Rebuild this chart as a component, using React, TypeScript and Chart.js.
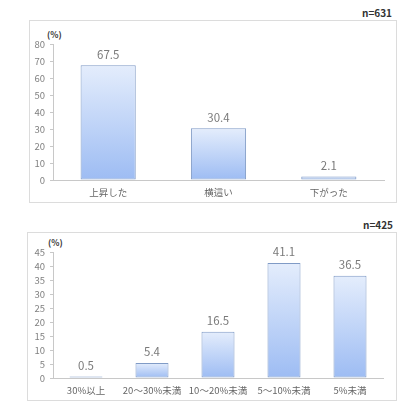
import React, { useEffect, useRef } from 'react';
import { Chart, ChartConfiguration, registerables } from 'chart.js';

Chart.register(...registerables);

const priceLabels = ['上昇した', '横這い', '下がった'];
const priceValues = [67.5, 30.4, 2.1];
const priceTicks = { max: 80, step: 10 };

const rateLabels = ['30%以上', '20～30%未満', '10～20%未満', '5～10%未満', '5%未満'];
const rateValues = [0.5, 5.4, 16.5, 41.1, 36.5];
const rateTicks = { max: 45, step: 5 };

const FONT = "'Noto Sans CJK JP', 'Noto Sans', sans-serif";

// value labels above each bar
const valueLabelPlugin = {
    id: 'valueLabels',
    afterDatasetsDraw(chart: Chart) {
        const ctx = chart.ctx;
        const meta = chart.getDatasetMeta(0);
        const data = chart.data.datasets[0].data as number[];
        ctx.save();
        ctx.font = `11.5px ${FONT}`;
        ctx.fillStyle = '#7a7a7a';
        ctx.textAlign = 'center';
        ctx.textBaseline = 'middle';
        meta.data.forEach((bar, i) => {
            ctx.fillText(data[i].toFixed(1), bar.x, bar.y - 11);
        });
        ctx.restore();
    },
};

interface PanelProps {
    labels: string[];
    values: number[];
    max: number;
    step: number;
    padding: { left: number; right: number; top: number; bottom: number };
}

const BarPanel: React.FC<PanelProps> = ({ labels, values, max, step, padding }) => {
    const canvasRef = useRef<HTMLCanvasElement>(null);
    const chartRef = useRef<Chart | null>(null);

    useEffect(() => {
        if (!canvasRef.current) return;
        if (chartRef.current) chartRef.current.destroy();
        const ctx = canvasRef.current.getContext('2d');
        if (!ctx) return;

        const config: ChartConfiguration = {
            type: 'bar',
            data: {
                labels,
                datasets: [{
                    data: values,
                    backgroundColor: (c: any) => {
                        const chart = c.chart;
                        const area = chart.chartArea;
                        if (!area || c.dataIndex === undefined || !chart.scales.y) return '#c5d8f7';
                        const top = chart.scales.y.getPixelForValue(c.raw as number);
                        const g = chart.ctx.createLinearGradient(0, top, 0, area.bottom);
                        g.addColorStop(0, '#e4edfc');
                        g.addColorStop(1, '#9dbcf3');
                        return g;
                    },
                    borderColor: '#809bc6',
                    borderWidth: 1,
                    borderSkipped: false,
                    barPercentage: 0.5,
                    categoryPercentage: 1,
                }],
            },
            options: {
                responsive: true,
                maintainAspectRatio: false,
                animation: false,
                layout: { padding },
                plugins: {
                    legend: { display: false },
                    tooltip: { enabled: false },
                },
                scales: {
                    x: {
                        grid: { display: false, drawTicks: false },
                        border: { display: true, color: '#c8c8c8' },
                        ticks: { color: '#666', padding: 7, font: { family: FONT, size: 9.5 }, maxRotation: 0, autoSkip: false },
                        afterFit: (s: any) => { s.height = 20; },
                    },
                    y: {
                        min: 0,
                        max,
                        grid: { drawOnChartArea: false, drawTicks: true, tickLength: 3, color: '#c8c8c8' },
                        border: { display: true, color: '#c8c8c8' },
                        ticks: { stepSize: step, autoSkip: false, color: '#808080', padding: 5, font: { family: FONT, size: 9.5 } },
                        afterFit: (s: any) => { s.width = 30; },
                    },
                },
            },
            plugins: [valueLabelPlugin],
        };

        chartRef.current = new Chart(ctx, config);
        return () => {
            if (chartRef.current) chartRef.current.destroy();
        };
    }, [labels, values, max, step, padding]);

    return <canvas ref={canvasRef} />;
};

const topPadding = { left: 23, right: 36, top: 44, bottom: 5 };
const bottomPadding = { left: 23, right: 37, top: 47, bottom: 12 };

const textStyle: React.CSSProperties = { position: 'absolute', fontFamily: FONT, color: '#333', fontWeight: 'bold', lineHeight: 1, whiteSpace: 'nowrap' };

export default function App() {
    return (
        <div style={{ position: 'absolute', left: 0, top: 0, width: 420, height: 410, background: '#fff', overflow: 'hidden' }}>
            <div style={{ position: 'absolute', left: 29, top: 20, width: 368, height: 183, border: '1px solid #dcdcdc', boxSizing: 'border-box' }} />
            <div style={{ position: 'absolute', left: 27, top: 232, width: 370, height: 169, border: '1px solid #dcdcdc', boxSizing: 'border-box' }} />
            <div style={{ ...textStyle, right: 28, top: 8, fontSize: 10 }}>n=631</div>
            <div style={{ ...textStyle, right: 27, top: 220, fontSize: 10 }}>n=425</div>
            <div style={{ ...textStyle, left: 47, top: 30, fontSize: 8.5 }}>(%)</div>
            <div style={{ ...textStyle, left: 48, top: 238, fontSize: 8.5 }}>(%)</div>
            <div style={{ position: 'absolute', left: 0, top: 0, width: 420, height: 205 }}>
                <BarPanel labels={priceLabels} values={priceValues} max={priceTicks.max} step={priceTicks.step} padding={topPadding} />
            </div>
            <div style={{ position: 'absolute', left: 0, top: 205, width: 420, height: 205 }}>
                <BarPanel labels={rateLabels} values={rateValues} max={rateTicks.max} step={rateTicks.step} padding={bottomPadding} />
            </div>
        </div>
    );
}
